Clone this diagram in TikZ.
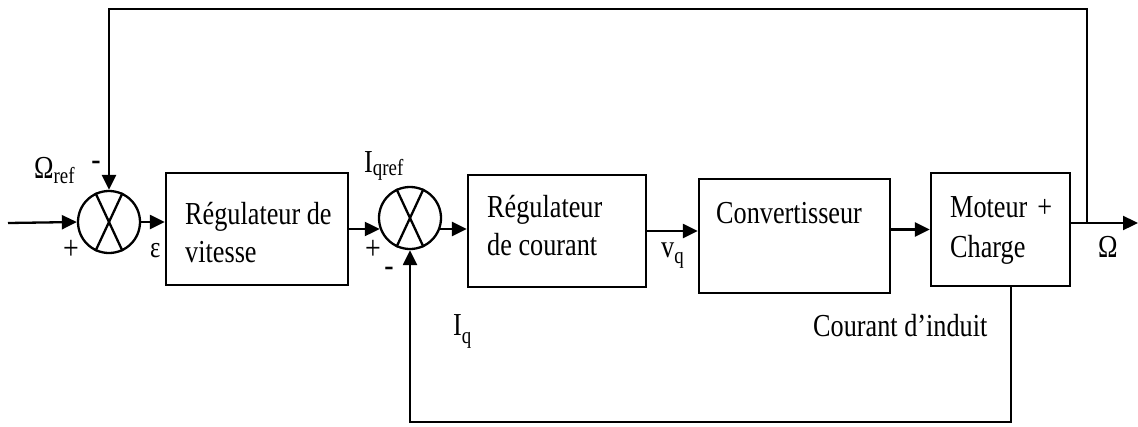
\documentclass[tikz,border=0pt]{standalone}
\usepackage{fontspec}
\setmainfont{Liberation Serif}[FakeStretch=0.82]
\usetikzlibrary{arrows.meta}
\newcommand\lsb[2][6pt]{\raisebox{-#1}{\fontsize{23}{23}\selectfont #2}}
\begin{document}
\begin{tikzpicture}[x=1pt,y=-1pt,
  ln/.style={line width=2.3pt},
  arr/.style={ln,-{Triangle[length=15pt,width=14pt]}},
  blk/.style={draw,line width=2.3pt,rectangle,inner sep=0pt},
  sumc/.style={draw,line width=2.3pt,circle,minimum size=62pt,inner sep=0pt},
  txt/.style={anchor=base west,inner sep=0pt,font=\fontsize{32}{38}\selectfont},
  sgn/.style={inner sep=0pt,font=\fontsize{34}{36}\selectfont}]
\useasboundingbox (0,0) rectangle (1138,426);
\fill[white] (0,0) rectangle (1138,426);
% summing junctions
\node[sumc] (c1) at (109,222) {};
\node[sumc] (c2) at (410,218) {};
\foreach \c in {c1,c2}{
  \draw[ln] (\c.115) -- (\c.-65);
  \draw[ln] (\c.65) -- (\c.-115);
}
% blocks
\node[blk,minimum width=182pt,minimum height=112pt] (b1) at (257,229) {};
\node[blk,minimum width=178pt,minimum height=112pt] (b2) at (557,231) {};
\node[blk,minimum width=191pt,minimum height=114pt] (b3) at (794.5,236) {};
\node[blk,minimum width=139pt,minimum height=113pt] (b4) at (1000.5,229.5) {};
% block texts
\node[txt] (t1a) at (185,224) {Régulateur de};
\node[txt] (t1b) at (185,262) {vitesse};
\node[txt] (t2a) at (487,217) {Régulateur};
\node[txt] (t2b) at (487,255) {de courant};
\node[txt] (t3) at (716,223) {Convertisseur};
\node[txt] (t4a) at (950,217) {Moteur\hspace{10pt}+};
\node[txt] (t4b) at (950,257) {Charge};
% coordinates
\coordinate (in) at (8,223);
\coordinate (out) at (1138,223);
\coordinate (tap) at (1087,223);
\coordinate (topR) at (1087,9);
\coordinate (botR) at (1011,422);
% connectors
\draw[arr] (in) -- (c1.west);
\draw[arr] (c1.east) -- (c1.east -| b1.west);
\draw[arr] (c2.200 -| b1.east) -- (c2.200);
\draw[arr] (c2.-20) -- (c2.-20 -| b2.west);
\draw[arr] (b2.east) -- (b2.east -| b3.west);
\draw[arr] (b4.west -| b3.east) -- (b4.west);
\draw[arr] (out -| b4.east) -- (out);
\draw[arr] (tap) -- (topR) -| (c1.north);
\draw[arr] (botR |- b4.south) -- (botR) -| (c2.south);
% labels
\node[txt] (lOref) at (34,178) {Ω\lsb[5pt]{ref}};
\node[sgn] (m1) at (96,166) {-};
\node[sgn] (p1) at (71,250) {+};
\node[txt,font=\fontsize{30}{32}\selectfont] (eps) at (150,257) {ε};
\node[txt] (lIqref) at (364,172) {I\lsb[3pt]{qref}};
\node[sgn] (p2) at (373,250) {+};
\node[sgn] (m2) at (389,272) {-};
\node[txt] (lvq) at (661,257) {v\lsb[6pt]{q}};
\node[txt] (lIq) at (453,335) {I\lsb[8pt]{q}};
\node[txt] (lcour) at (813,336) {Courant d’induit};
\node[txt] (lO) at (1098,257) {Ω};
\end{tikzpicture}
\end{document}
